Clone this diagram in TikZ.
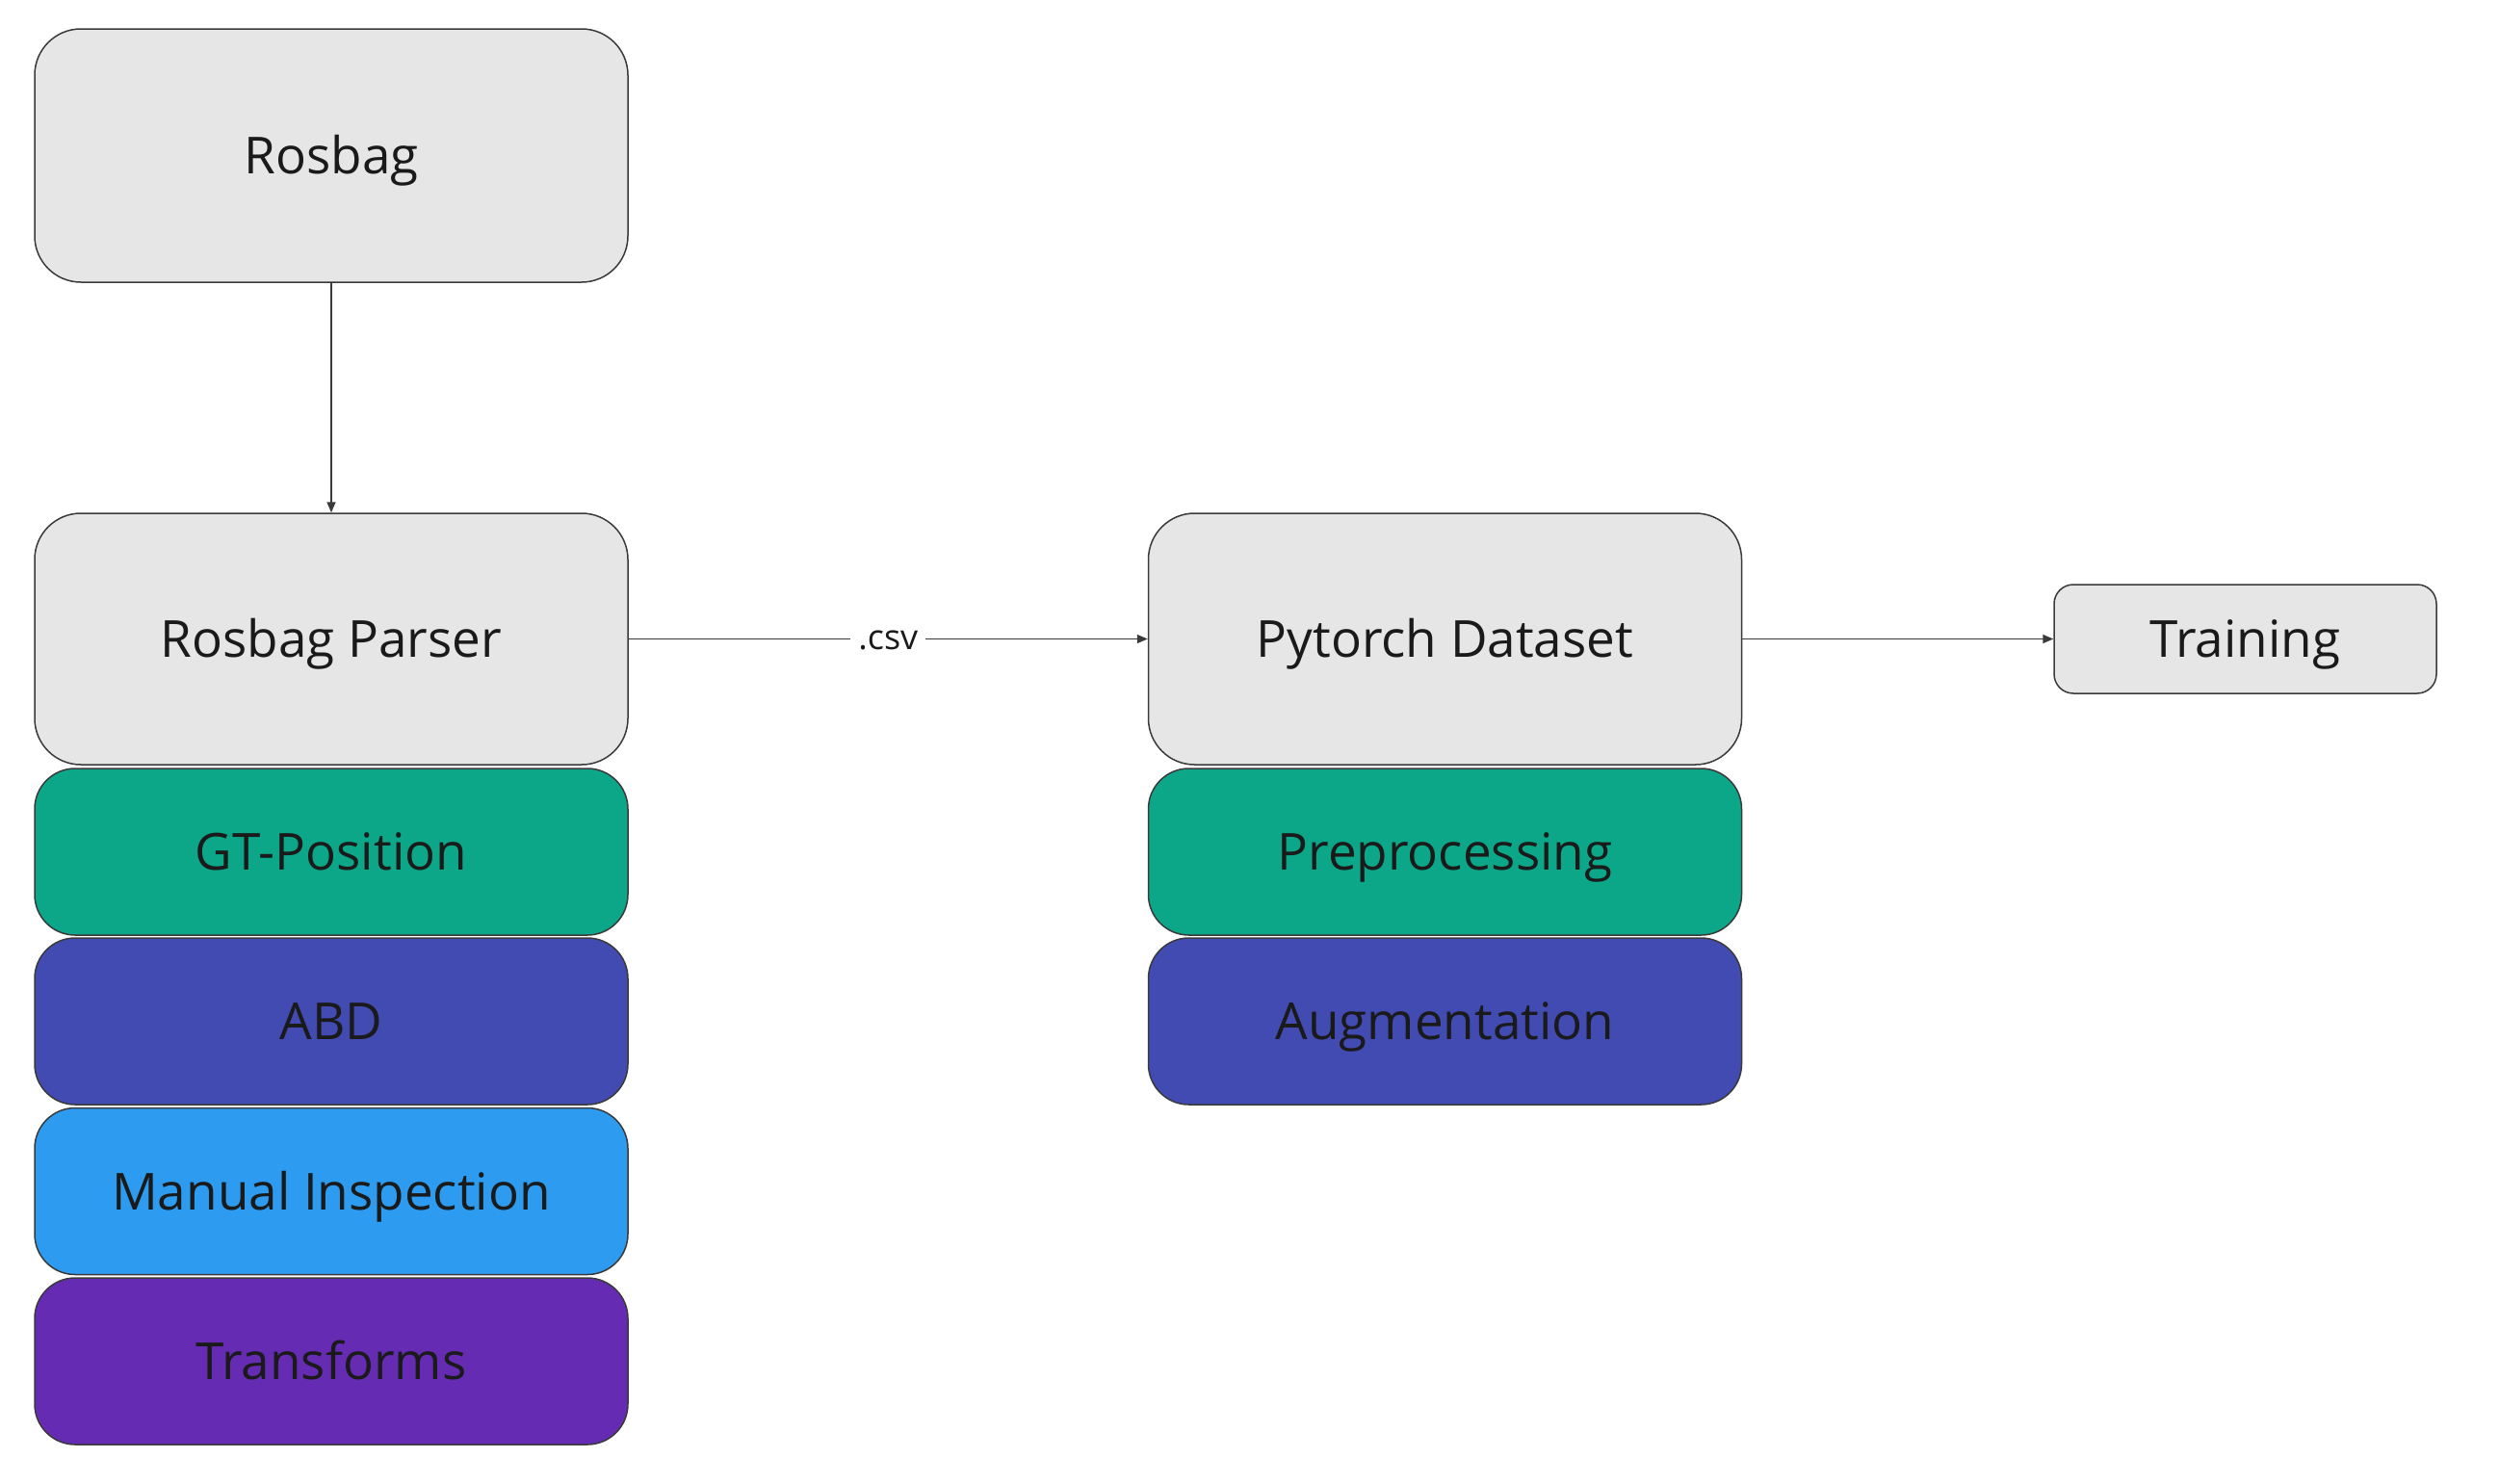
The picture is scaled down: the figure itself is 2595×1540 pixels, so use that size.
\documentclass[tikz,border=0pt]{standalone}
\usepackage{fontspec}
\setmainfont{Open Sans}
\usetikzlibrary{arrows.meta}
\definecolor{boxgray}{HTML}{E6E6E6}
\definecolor{edgegray}{HTML}{3A3A3A}
\definecolor{txt}{HTML}{1A1A1A}
\definecolor{mgreen}{HTML}{0CA789}
\definecolor{mindigo}{HTML}{414BB2}
\definecolor{mblue}{HTML}{2D9BF0}
\definecolor{mpurple}{HTML}{652CB3}
\tikzset{
  basebox/.style={draw=edgegray, line width=1.5pt, rounded corners=48pt, inner sep=0pt,
    text=txt, font=\fontsize{53}{64}\selectfont, text height=38pt, text depth=0pt,
    minimum width=616pt},
  graybox/.style={basebox, fill=boxgray, minimum height=261pt},
  layerbox/.style={basebox, minimum height=173pt, rounded corners=42pt},
  conn/.style={draw=edgegray, line width=1.6pt, -{Triangle[length=11pt,width=9pt]}},
  lbl/.style={fill=white, text=txt, font=\fontsize{36}{44}\selectfont, text height=22pt, text depth=0pt,
    inner xsep=8pt, inner ysep=8pt}
}
\begin{document}
\begin{tikzpicture}[x=1pt,y=-1pt]
\useasboundingbox (0,0) rectangle (2595,1540);
\node[graybox, minimum height=263pt] (rosbag) at (344,161.5) {Rosbag};
\node[graybox] (parser) at (344,663.5) {Rosbag Parser};
\node[layerbox, fill=mgreen] (gt) at (344,884.5) {GT-Position};
\node[layerbox, fill=mindigo] (abd) at (344,1060.5) {ABD};
\node[layerbox, fill=mblue] (manual) at (344,1237) {Manual Inspection};
\node[layerbox, fill=mpurple] (transforms) at (344,1413.5) {Transforms};
\node[graybox] (dataset) at (1500.5,663.5) {Pytorch Dataset};
\node[layerbox, fill=mgreen] (prep) at (1500.5,884.5) {Preprocessing};
\node[layerbox, fill=mindigo] (aug) at (1500.5,1060.5) {Augmentation};
\node[basebox, fill=boxgray, minimum width=397pt, minimum height=113pt, rounded corners=20pt] (training) at (2331.5,663.5) {Training};
\draw[conn] (rosbag) -- (parser);
\draw[conn] (parser) -- node[lbl] {.csv} (dataset);
\draw[conn] (dataset) -- (training);
\end{tikzpicture}
\end{document}
